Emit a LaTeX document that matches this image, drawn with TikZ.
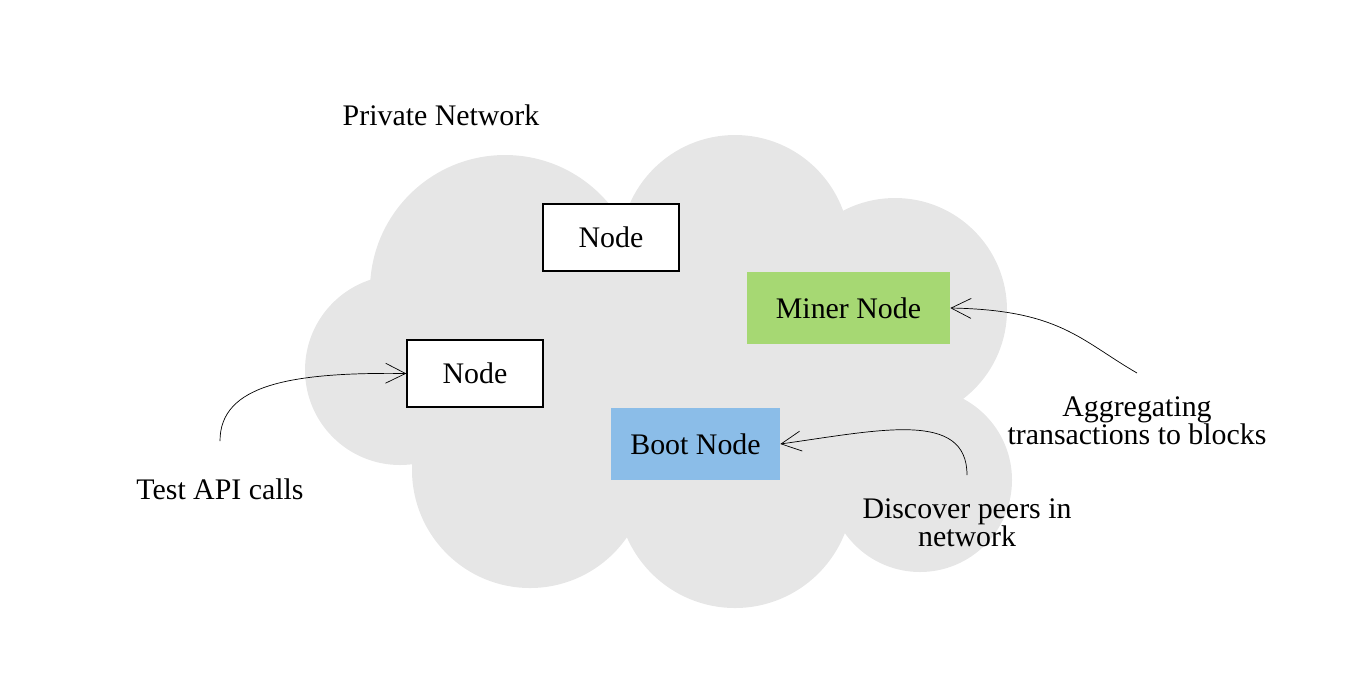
\documentclass[tikz,border=0pt]{standalone}
\usepackage{fontspec}
\setmainfont{Liberation Serif}
\usetikzlibrary{positioning,arrows.meta}
\definecolor{cloudgray}{HTML}{E6E6E6}
\definecolor{minergreen}{HTML}{A6D873}
\definecolor{bootblue}{HTML}{8BBDE8}
\begin{document}
\begin{tikzpicture}[x=0.02cm,y=-0.02cm,
  every node/.style={font=\fontsize{17}{20}\selectfont},
  custbox/.style={rectangle, draw=black, thick, fill=white, minimum width=2.72cm, minimum height=1.34cm},
  colbox/.style={rectangle, minimum height=1.44cm},
  note/.style={align=center},
  callout/.style={-{Straight Barb[length=4mm,width=4mm]}, black}]
\useasboundingbox (0,0) rectangle (1358,691);

%cloud
\begin{scope}[cloudgray]
\fill (505,290) circle (135);
\fill (735,250) circle (115);
\fill (895,310) circle (112);
\fill (400,370) circle (95);
\fill (920,480) circle (92);
\fill (530,470) circle (118);
\fill (735,490) circle (118);
\fill (420,250) rectangle (930,500);
\end{scope}

\node (title) at (441,115) {Private Network};

\node (top) at (611,237.5) [custbox] {Node};
\node (left) at (475,373.5) [custbox] {Node};
\node (miner) at (848.5,308) [colbox, fill=minergreen, minimum width=4.06cm] {Miner Node};
\node (boot) at (695.5,444) [colbox, fill=bootblue, minimum width=3.38cm] {Boot Node};

\node (test) at (220,489) {Test API calls};
\node (aggr) at (1137,421) [note] {Aggregating\\[-4pt]transactions to blocks};
\node (disc) at (967,523) [note] {Discover peers in\\[-4pt]network};

\coordinate (testend) at (220,441);
\coordinate (aggrend) at (1137,373);
\coordinate (discend) at (967,475);

%Arrows
\draw[callout] (testend) .. controls (220,385) and (290,372) .. (left.west);
\draw[callout] (aggrend) .. controls (1080,340) and (1060,310) .. (miner.east);
\draw[callout] (discend) .. controls (967,410) and (880,430) .. (boot.east);
\end{tikzpicture}
\end{document}
